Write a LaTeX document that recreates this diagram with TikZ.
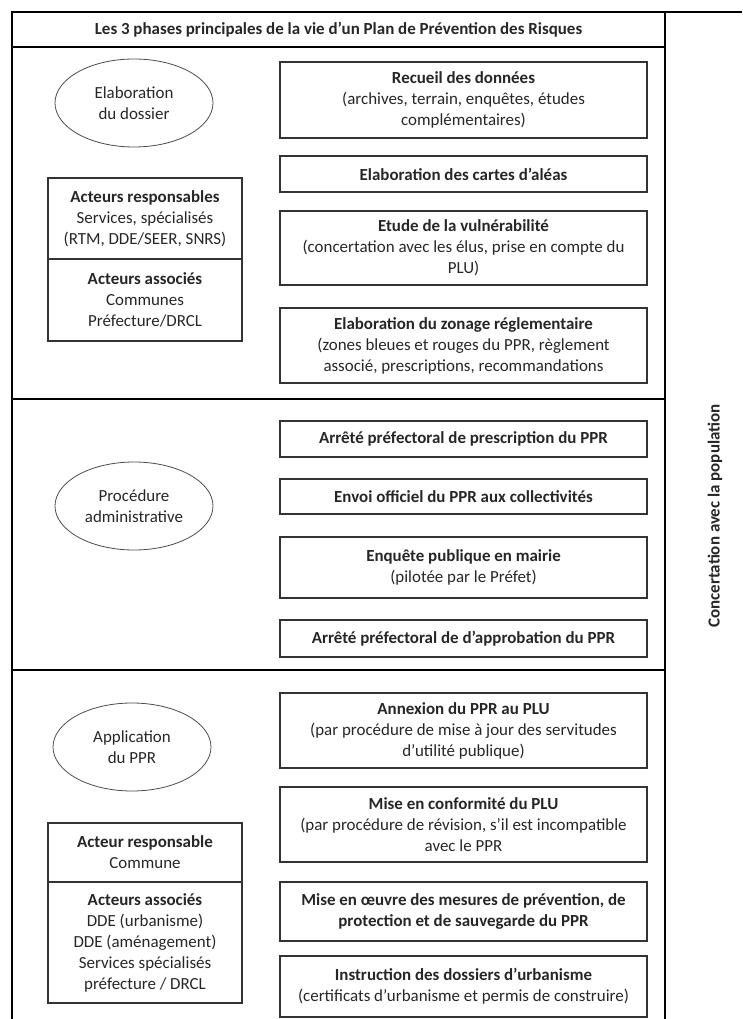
\documentclass[tikz,border=0pt]{standalone}
\usepackage{fontspec}
\setmainfont{Carlito}
\usetikzlibrary{shapes.geometric}

\def\pxu{0.75pt}

\begin{document}
\begin{tikzpicture}[x=0.75pt,y=-0.75pt,
    txt/.style={font=\fontsize{12.7pt}{15.75pt}\selectfont, text=black!85, align=center},
    stepbox/.style={txt, draw=black!80, line width=1.1pt, inner sep=0pt,
      minimum width=367*\pxu},
    actorbox/.style={txt, draw=black!80, line width=1.1pt, inner sep=0pt,
      minimum width=194*\pxu},
    phase/.style={txt, ellipse, draw=black!70, line width=0.6pt, inner sep=0pt,
      minimum width=158*\pxu, minimum height=88*\pxu}]
  \useasboundingbox (0,0) rectangle (742,1019);

  % frame
  \draw[line width=2pt] (12,1019) -- (12,12) -- (742,12);
  \draw[line width=1.1pt] (12,47) -- (665,47);
  \draw[line width=1.1pt] (665,12) -- (665,1019);
  \draw[line width=1.1pt] (12,399) -- (665,399);
  \draw[line width=1.1pt] (12,670) -- (665,670);
  \node[txt] (title) at (338.5,30)
    {\textbf{Les 3 phases principales de la vie d’un Plan de Prévention des Risques}};
  \node[txt, rotate=90] (concert) at (715,516)
    {\textbf{Concertation avec la population}};

  % phase 1
  \node[phase] (elab) at (134,103) {Elaboration\\du dossier};
  \node[actorbox, minimum height=81*\pxu] (resp1) at (145,218.5)
    {\textbf{Acteurs responsables}\\Services, spécialisés\\(RTM, DDE/SEER, SNRS)};
  \node[actorbox, minimum height=82*\pxu] (assoc1) at (145,300)
    {\textbf{Acteurs associés}\\Communes\\Préfecture/DRCL};
  \node[stepbox, minimum height=76*\pxu] (recueil) at (463.5,100)
    {\textbf{Recueil des données}\\(archives, terrain, enquêtes, études\\complémentaires)};
  \node[stepbox, minimum height=36*\pxu] (cartes) at (463.5,174)
    {\textbf{Elaboration des cartes d’aléas}};
  \node[stepbox, minimum height=74*\pxu] (vuln) at (463.5,248)
    {\textbf{Etude de la vulnérabilité}\\(concertation avec les élus, prise en compte du\\PLU)};
  \node[stepbox, minimum height=75*\pxu] (zonage) at (463.5,345.5)
    {\textbf{Elaboration du zonage réglementaire}\\(zones bleues et rouges du PPR, règlement\\associé, prescriptions, recommandations};

  % phase 2
  \node[phase] (proc) at (134,506) {Procédure\\administrative};
  \node[stepbox, minimum height=36*\pxu] (prescr) at (463.5,439)
    {\textbf{Arrêté préfectoral de prescription du PPR}};
  \node[stepbox, minimum height=35*\pxu] (envoi) at (463.5,496.5)
    {\textbf{Envoi officiel du PPR aux collectivités}};
  \node[stepbox, minimum height=61*\pxu] (enquete) at (463.5,567.5)
    {\textbf{Enquête publique en mairie}\\(pilotée par le Préfet)};
  \node[stepbox, minimum height=37*\pxu] (approb) at (463.5,638.5)
    {\textbf{Arrêté préfectoral de d’approbation du PPR}};

  % phase 3
  \node[phase] (appli) at (132,747) {Application\\du PPR};
  \node[actorbox, minimum height=59*\pxu] (resp3) at (145,852.5)
    {\textbf{Acteur responsable}\\Commune};
  \node[actorbox, minimum height=121*\pxu] (assoc3) at (145,942.5)
    {\textbf{Acteurs associés}\\DDE (urbanisme)\\DDE (aménagement)\\Services spécialisés\\préfecture / DRCL};
  \node[stepbox, minimum height=75*\pxu] (annex) at (463.5,730.5)
    {\textbf{Annexion du PPR au PLU}\\(par procédure de mise à jour des servitudes\\d’utilité publique)};
  \node[stepbox, minimum height=75*\pxu] (conform) at (463.5,824.5)
    {\textbf{Mise en conformité du PLU}\\(par procédure de révision, s’il est incompatible\\avec le PPR};
  \node[stepbox, minimum height=59*\pxu] (oeuvre) at (463.5,911.5)
    {\textbf{Mise en œuvre des mesures de prévention, de}\\\textbf{protection et de sauvegarde du PPR}};
  \node[stepbox, minimum height=61*\pxu] (instr) at (463.5,986.5)
    {\textbf{Instruction des dossiers d’urbanisme}\\(certificats d’urbanisme et permis de construire)};
\end{tikzpicture}
\end{document}
